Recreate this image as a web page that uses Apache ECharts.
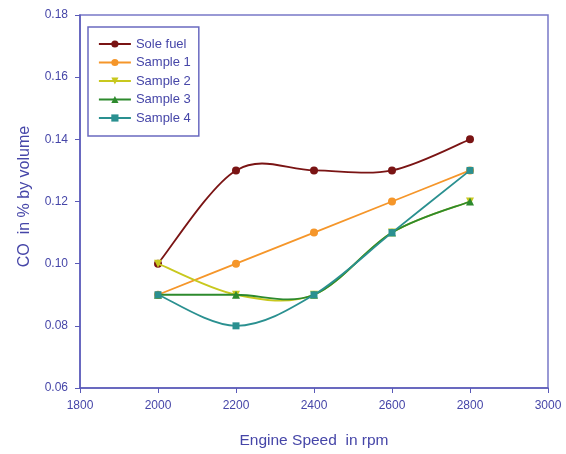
<!DOCTYPE html>
<html><head><meta charset="utf-8">
<script src="https://cdn.jsdelivr.net/npm/echarts@6/dist/echarts.min.js"></script>
<style>html,body{margin:0;padding:0;background:#fff}#c{width:566px;height:454px}</style>
</head><body><div id="c"></div>
<script>
const speeds = [2000, 2200, 2400, 2600, 2800];
const soleFuel = [0.10, 0.13, 0.13, 0.13, 0.14];
const sample1 = [0.09, 0.10, 0.11, 0.12, 0.13];
const sample2 = [0.10, 0.09, 0.09, 0.11, 0.12];
const sample3 = [0.09, 0.09, 0.09, 0.11, 0.12];
const sample4 = [0.09, 0.08, 0.09, 0.11, 0.13];
const seriesNames = ['Sole fuel', 'Sample 1', 'Sample 2', 'Sample 3', 'Sample 4'];
const xTicks = [1800, 2000, 2200, 2400, 2600, 2800, 3000];

const pairs = v => speeds.map((s, i) => [s, v[i]]);
const txt = '#4646a8';
const axisCol = '#5a5ab8';
const font = 'Liberation Sans, Arial, sans-serif';

const defs = [
  {data: soleFuel, color: '#7a1414', symbol: 'circle', size: 8},
  {data: sample1, color: '#f5962a', symbol: 'circle', size: 8},
  {data: sample2, color: '#c8c81e', symbol: 'triangle', size: 8, rot: 180},
  {data: sample3, color: '#2d8a2d', symbol: 'triangle', size: 8},
  {data: sample4, color: '#2a9090', symbol: 'rect', size: 7}
];

// Excel-like smoothed line: one bezier segment per data item, points converted by the axes
function smoothRenderer(values, color) {
  const pts = pairs(values);
  return function (params, api) {
    const i = params.dataIndex;
    if (i >= pts.length - 1) return null;
    const c = k => api.coord(pts[Math.max(0, Math.min(pts.length - 1, k))]);
    const p0 = c(i - 1), p1 = c(i), p2 = c(i + 1), p3 = c(i + 2);
    const t = 1 / 6;
    const cp1 = [p1[0] + (p2[0] - p0[0]) * t, p1[1] + (p2[1] - p0[1]) * t];
    const cp2 = [p2[0] - (p3[0] - p1[0]) * t, p2[1] - (p3[1] - p1[1]) * t];
    return {
      type: 'bezierCurve',
      shape: {x1: p1[0], y1: p1[1], x2: p2[0], y2: p2[1], cpx1: cp1[0], cpy1: cp1[1], cpx2: cp2[0], cpy2: cp2[1]},
      style: {stroke: color, lineWidth: 1.8, fill: null},
      silent: true
    };
  };
}

const curveSeries = defs.map((d, i) => ({
  name: seriesNames[i] + ' curve', type: 'custom',
  data: pairs(d.data),
  renderItem: smoothRenderer(d.data, d.color),
  z: 2 + i * 2
}));
const markSeries = defs.map((d, i) => ({
  name: seriesNames[i], type: 'line',
  data: pairs(d.data),
  symbol: d.symbol, symbolSize: d.size, symbolRotate: d.rot || 0,
  lineStyle: {color: d.color, width: 1.8, opacity: 0},
  itemStyle: {color: d.color},
  z: 3 + i * 2
}));

const chart = echarts.init(document.getElementById('c'), null, {renderer: 'canvas'});
chart.setOption({
  animation: false,
  backgroundColor: '#fff',
  grid: {left: 80, right: 18, top: 15, bottom: 64, show: true, borderColor: '#7878c8', borderWidth: 1.5, backgroundColor: 'transparent'},
  legend: {
    orient: 'vertical', left: 88, top: 27,
    itemWidth: 32, itemHeight: 9, itemGap: 4.5,
    padding: [10, 8, 11, 10],
    borderColor: '#6a6ac0', borderWidth: 1.5,
    textStyle: {color: txt, fontSize: 13, lineHeight: 14, fontFamily: font},
    data: defs.map((d, i) => ({name: seriesNames[i], lineStyle: {color: d.color, width: 1.8, opacity: 1}}))
  },
  xAxis: {
    type: 'value', min: xTicks[0], max: xTicks[xTicks.length - 1], interval: 200,
    name: 'Engine Speed  in rpm', nameLocation: 'middle', nameGap: 45,
    nameTextStyle: {color: txt, fontSize: 15.5, fontFamily: font},
    axisLine: {show: true, lineStyle: {color: axisCol, width: 1.5}},
    axisTick: {show: true, length: 5, lineStyle: {color: axisCol}},
    axisLabel: {color: txt, fontSize: 12, fontFamily: font, margin: 12, formatter: v => String(v)},
    splitLine: {show: false}
  },
  yAxis: {
    type: 'value', min: 0.06, max: 0.18, interval: 0.02,
    name: 'CO  in % by volume', nameLocation: 'middle', nameGap: 47,
    nameTextStyle: {color: txt, fontSize: 16, fontFamily: font, padding: [0, 0, 0, 10]},
    axisLine: {show: true, lineStyle: {color: axisCol, width: 1.5}},
    axisTick: {show: true, length: 5, lineStyle: {color: axisCol}},
    axisLabel: {color: txt, fontSize: 12, fontFamily: font, margin: 12, formatter: v => v.toFixed(2)},
    splitLine: {show: false}
  },
  series: curveSeries.concat(markSeries)
});
</script></body></html>
